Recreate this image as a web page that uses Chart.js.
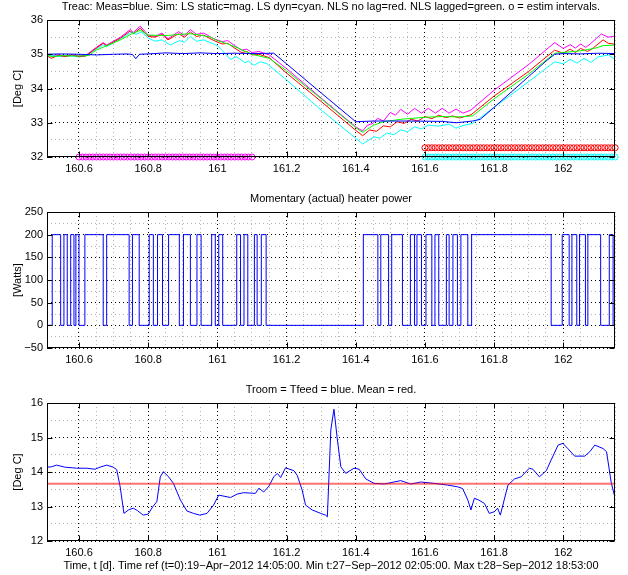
<!DOCTYPE html>
<html>
<head>
<meta charset="utf-8">
<script src="https://cdn.jsdelivr.net/npm/chart.js@4.4.1/dist/chart.umd.min.js"></script>
<style>
  html, body { margin: 0; padding: 0; background: #fff; }
  #wrap { position: relative; width: 628px; height: 575px; }
  canvas { position: absolute; left: 0; }
</style>
</head>
<body>
<div id="wrap">
  <canvas id="treacChart" width="628" height="180" style="top:0px"></canvas>
  <canvas id="powerChart" width="628" height="190" style="top:180px"></canvas>
  <canvas id="troomChart" width="628" height="205" style="top:370px"></canvas>
</div>
<script>
// time axis (days since t=0)
const tMin = 160.5075;
const tMax = 162.1495;

// Treac, measured (blue)
const measT = [160.50, 160.55, 160.60, 160.65, 160.70, 160.74, 160.755, 160.764, 160.775, 160.80, 160.85, 160.90, 160.95, 161.00, 161.05, 161.10, 161.163, 161.20, 161.30, 161.40, 161.45, 161.55, 161.65, 161.69, 161.738, 161.76, 161.80, 161.85, 161.90, 161.95, 161.975, 162.00, 162.05, 162.10, 162.15];
const measY = [35.00, 35.01, 35.00, 34.98, 35.00, 35.01, 34.99, 34.87, 35.00, 35.01, 35.04, 35.02, 35.04, 35.02, 35.03, 35.02, 35.03, 34.72, 33.87, 33.03, 33.05, 33.05, 33.04, 33.00, 33.05, 33.10, 33.45, 33.90, 34.35, 34.80, 35.00, 35.02, 35.01, 35.03, 35.02];

// LS static (magenta)
const lsStatT = [160.50, 160.52, 160.54, 160.56, 160.58, 160.60, 160.62, 160.65, 160.67, 160.68, 160.72, 160.748, 160.757, 160.777, 160.80, 160.82, 160.84, 160.857, 160.888, 160.905, 160.922, 160.94, 160.96, 160.99, 161.014, 161.03, 161.05, 161.07, 161.085, 161.10, 161.12, 161.15, 161.20, 161.30, 161.40, 161.42, 161.434, 161.45, 161.463, 161.48, 161.50, 161.515, 161.53, 161.55, 161.57, 161.59, 161.61, 161.63, 161.65, 161.67, 161.69, 161.71, 161.733, 161.80, 161.90, 161.975, 162.00, 162.02, 162.035, 162.05, 162.065, 162.08, 162.11, 162.13, 162.15];
const lsStatY = [35.00, 34.95, 34.99, 34.95, 34.99, 34.95, 34.97, 35.20, 35.34, 35.27, 35.50, 35.72, 35.64, 35.82, 35.56, 35.52, 35.62, 35.45, 35.66, 35.55, 35.72, 35.58, 35.62, 35.45, 35.37, 35.40, 35.25, 35.12, 35.15, 35.05, 35.08, 34.98, 34.58, 33.72, 32.88, 32.76, 32.93, 32.98, 33.13, 33.05, 33.30, 33.22, 33.39, 33.25, 33.42, 33.28, 33.42, 33.28, 33.42, 33.28, 33.40, 33.28, 33.37, 33.95, 34.70, 35.34, 35.17, 35.28, 35.18, 35.30, 35.20, 35.32, 35.59, 35.50, 35.53];

// LS dyn (cyan)
const lsDynT = [160.50, 160.52, 160.55, 160.58, 160.60, 160.62, 160.65, 160.67, 160.68, 160.72, 160.753, 160.765, 160.78, 160.80, 160.82, 160.84, 160.864, 160.89, 160.905, 160.922, 160.94, 160.96, 160.99, 161.00, 161.02, 161.038, 161.055, 161.08, 161.09, 161.105, 161.125, 161.144, 161.20, 161.30, 161.40, 161.42, 161.453, 161.47, 161.49, 161.51, 161.53, 161.55, 161.57, 161.59, 161.61, 161.64, 161.67, 161.69, 161.71, 161.738, 161.80, 161.90, 161.975, 162.00, 162.02, 162.04, 162.06, 162.08, 162.10, 162.13, 162.15];
const lsDynY = [35.00, 34.96, 34.93, 34.95, 34.92, 34.95, 35.15, 35.28, 35.22, 35.45, 35.66, 35.58, 35.65, 35.48, 35.38, 35.42, 35.27, 35.40, 35.35, 35.52, 35.38, 35.42, 35.30, 35.25, 35.05, 34.85, 34.93, 34.75, 34.80, 34.68, 34.78, 34.72, 34.25, 33.37, 32.55, 32.38, 32.59, 32.55, 32.70, 32.65, 32.79, 32.74, 32.88, 32.82, 32.93, 32.90, 32.96, 32.84, 32.92, 32.98, 33.45, 34.20, 34.78, 34.72, 34.85, 34.74, 34.88, 34.76, 34.92, 34.98, 34.85];

// NLS no lag (red)
const nlsT = [160.50, 160.52, 160.54, 160.56, 160.58, 160.60, 160.62, 160.65, 160.67, 160.68, 160.72, 160.748, 160.757, 160.777, 160.80, 160.82, 160.84, 160.857, 160.888, 160.905, 160.922, 160.94, 160.96, 160.99, 161.014, 161.03, 161.05, 161.07, 161.085, 161.10, 161.12, 161.15, 161.20, 161.30, 161.40, 161.42, 161.44, 161.46, 161.48, 161.50, 161.52, 161.54, 161.56, 161.58, 161.60, 161.62, 161.64, 161.66, 161.68, 161.70, 161.733, 161.80, 161.90, 161.975, 162.00, 162.02, 162.035, 162.05, 162.07, 162.085, 162.115, 162.13, 162.15];
const nlsY = [35.00, 34.88, 34.97, 34.93, 34.98, 34.93, 34.95, 35.18, 35.32, 35.25, 35.47, 35.68, 35.60, 35.76, 35.52, 35.50, 35.58, 35.42, 35.60, 35.50, 35.65, 35.52, 35.56, 35.40, 35.30, 35.32, 35.18, 35.05, 35.08, 34.98, 35.00, 34.90, 34.45, 33.62, 32.78, 32.62, 32.79, 32.75, 32.91, 32.88, 33.03, 32.98, 33.10, 33.05, 33.18, 33.12, 33.22, 33.15, 33.20, 33.14, 33.23, 33.78, 34.50, 35.12, 35.03, 35.15, 35.05, 35.17, 35.08, 35.17, 35.42, 35.32, 35.29];

// NLS lagged (green)
const nlsLagT = [160.50, 160.52, 160.55, 160.58, 160.61, 160.63, 160.65, 160.68, 160.72, 160.75, 160.777, 160.80, 160.83, 160.86, 160.89, 160.92, 160.95, 160.98, 161.00, 161.03, 161.06, 161.10, 161.15, 161.20, 161.30, 161.40, 161.42, 161.45, 161.48, 161.53, 161.60, 161.65, 161.70, 161.738, 161.80, 161.90, 161.975, 162.00, 162.05, 162.09, 162.115, 162.15];
const nlsLagY = [35.00, 34.93, 34.96, 34.95, 34.95, 34.97, 35.12, 35.25, 35.42, 35.58, 35.70, 35.56, 35.55, 35.55, 35.58, 35.60, 35.56, 35.50, 35.40, 35.30, 35.18, 35.00, 34.88, 34.52, 33.70, 32.86, 32.72, 32.92, 33.03, 33.10, 33.16, 33.18, 33.17, 33.20, 33.70, 34.42, 35.03, 35.05, 35.10, 35.17, 35.25, 35.27];

// estimation intervals (circles)
const estimStatT = [160.60, 160.61, 160.62, 160.63, 160.64, 160.65, 160.66, 160.67, 160.68, 160.69, 160.70, 160.71, 160.72, 160.73, 160.74, 160.75, 160.76, 160.77, 160.78, 160.79, 160.80, 160.81, 160.82, 160.83, 160.84, 160.85, 160.86, 160.87, 160.88, 160.89, 160.90, 160.91, 160.92, 160.93, 160.94, 160.95, 160.96, 160.97, 160.98, 160.99, 161.00, 161.01, 161.02, 161.03, 161.04, 161.05, 161.06, 161.07, 161.08, 161.09, 161.10];
const estimNlsT = [161.60, 161.61, 161.62, 161.63, 161.64, 161.65, 161.66, 161.67, 161.68, 161.69, 161.70, 161.71, 161.72, 161.73, 161.74, 161.75, 161.76, 161.77, 161.78, 161.79, 161.80, 161.81, 161.82, 161.83, 161.84, 161.85, 161.86, 161.87, 161.88, 161.89, 161.90, 161.91, 161.92, 161.93, 161.94, 161.95, 161.96, 161.97, 161.98, 161.99, 162.00, 162.01, 162.02, 162.03, 162.04, 162.05, 162.06, 162.07, 162.08, 162.09, 162.10, 162.11, 162.12, 162.13, 162.14, 162.15];
const estimStatLevel = 32.0;
const estimNlsRedLevel = 32.27;
const estimNlsCyanLevel = 32.0;

// heater power: switch-on / switch-off instants, 200 W when on
const powerOnT  = [160.5226, 160.5565, 160.576, 160.591, 160.617, 160.680, 160.7545, 160.803, 160.827, 160.859, 160.902, 160.941, 160.9835, 161.004, 161.056, 161.077, 161.107, 161.127, 161.422, 161.4725, 161.504, 161.558, 161.577, 161.603, 161.629, 161.662, 161.681, 161.704, 161.735, 161.997, 162.025, 162.047, 162.071, 162.133, 162.148];
const powerOffT = [160.547, 160.566, 160.5855, 160.600, 160.670, 160.745, 160.774, 160.815, 160.8415, 160.890, 160.922, 160.953, 160.994, 161.0154, 161.067, 161.088, 161.115, 161.141, 161.464, 161.495, 161.535, 161.570, 161.590, 161.620, 161.640, 161.670, 161.694, 161.724, 161.965, 162.017, 162.039, 162.064, 162.108, 162.144, null];
const powerOn = 200;

// Troom (blue) and its mean (red)
const troomT = [160.507, 160.52, 160.535, 160.559, 160.593, 160.622, 160.646, 160.661, 160.680, 160.699, 160.709, 160.719, 160.730, 160.743, 160.757, 160.769, 160.786, 160.800, 160.813, 160.825, 160.835, 160.844, 160.859, 160.873, 160.893, 160.912, 160.931, 160.949, 160.970, 160.989, 161.004, 161.038, 161.057, 161.076, 161.110, 161.120, 161.134, 161.149, 161.163, 161.173, 161.183, 161.197, 161.221, 161.231, 161.245, 161.255, 161.274, 161.299, 161.313, 161.318, 161.328, 161.337, 161.347, 161.357, 161.371, 161.395, 161.410, 161.429, 161.453, 161.482, 161.530, 161.559, 161.588, 161.627, 161.666, 161.695, 161.709, 161.724, 161.733, 161.743, 161.755, 161.772, 161.786, 161.801, 161.810, 161.818, 161.840, 161.859, 161.878, 161.902, 161.912, 161.931, 161.951, 161.965, 161.985, 161.999, 162.013, 162.033, 162.062, 162.077, 162.091, 162.115, 162.125, 162.139, 162.150];
const troomY = [14.14, 14.15, 14.20, 14.14, 14.11, 14.11, 14.08, 14.14, 14.20, 14.14, 14.07, 13.57, 12.80, 12.90, 12.95, 12.88, 12.75, 12.78, 12.99, 13.14, 13.86, 14.01, 13.86, 13.67, 13.19, 12.87, 12.80, 12.75, 12.80, 13.04, 13.33, 13.26, 13.36, 13.40, 13.38, 13.53, 13.42, 13.59, 13.86, 13.96, 13.84, 14.12, 14.04, 13.90, 13.48, 13.04, 12.90, 12.80, 12.75, 12.70, 15.22, 15.82, 14.93, 14.15, 13.96, 14.11, 14.08, 13.80, 13.67, 13.65, 13.75, 13.65, 13.71, 13.67, 13.62, 13.57, 13.52, 13.19, 12.90, 13.24, 13.19, 13.09, 12.80, 12.85, 12.95, 12.75, 13.62, 13.80, 13.86, 14.11, 14.08, 13.86, 14.04, 14.35, 14.78, 14.83, 14.68, 14.46, 14.46, 14.59, 14.78, 14.68, 14.59, 13.67, 13.24];
const troomMean = 13.66;

// tick steps: labelled (major) and grid-only (minor)
const xMajor = 0.2, xMinor = 0.05;
const treacMajor = 1, treacMinor = 0.5;
const powerMajor = 50, powerMinor = 25;
const troomMajor = 1, troomMinor = 0.5;

const titles = [
    'Treac: Meas=blue. Sim: LS static=mag. LS dyn=cyan. NLS no lag=red. NLS lagged=green. o = estim intervals.',
    'Momentary (actual) heater power',
    'Troom = Tfeed = blue. Mean = red.'
];
const timeLabel = 'Time, t [d]. Time ref (t=0):19\u2212Apr\u22122012 14:05:00. Min t:27\u2212Sep\u22122012 02:05:00. Max t:28\u2212Sep\u22122012 18:53:00';

Chart.defaults.font.family = "'Liberation Sans', Arial, Helvetica, sans-serif";
Chart.defaults.font.size = 11;
Chart.defaults.color = '#000';

function isMajor(v, step) {
    const r = v / step;
    return Math.abs(r - Math.round(r)) < 1e-6;
}

function pts(xs, ys) {
    return xs.map((x, i) => ({ x: x, y: ys[i] }));
}

function fmt(v) {
    const s = String(Math.round(v * 10) / 10);
    return s.replace('-', '\u2212');
}

// MATLAB-like box with inward ticks
const boxPlugin = {
    id: 'box',
    afterDraw(chart, args, opts) {
        const { ctx, chartArea: a, scales } = chart;
        const L = Math.round(a.left) + 0.5, R = Math.round(a.right) - 0.5;
        const T = Math.round(a.top) + 0.5, B = Math.round(a.bottom) - 0.5;
        ctx.save();
        ctx.strokeStyle = '#000';
        ctx.lineWidth = 1;
        ctx.setLineDash([]);
        ctx.strokeRect(L, T, R - L, B - T);
        ctx.beginPath();
        scales.x.ticks.forEach(t => {
            if (!isMajor(t.value, opts.xStep)) return;
            const px = Math.round(scales.x.getPixelForValue(t.value)) + 0.5;
            ctx.moveTo(px, B); ctx.lineTo(px, B - 5);
            ctx.moveTo(px, T); ctx.lineTo(px, T + 5);
        });
        scales.y.ticks.forEach(t => {
            if (!isMajor(t.value, opts.yStep)) return;
            const py = Math.round(scales.y.getPixelForValue(t.value)) + 0.5;
            ctx.moveTo(L, py); ctx.lineTo(L + 5, py);
            ctx.moveTo(R, py); ctx.lineTo(R - 5, py);
        });
        ctx.stroke();
        ctx.restore();
    }
};

function makeOptions(cfg) {
    const gridColor = step => (c => (c.tick && isMajor(c.tick.value, step)) ? '#000' : '#b4b4b4');
    return {
        responsive: false,
        animation: false,
        events: [],
        layout: { padding: { left: 0, right: 13, top: 0, bottom: 0 } },
        plugins: {
            legend: { display: false },
            tooltip: { enabled: false },
            title: {
                display: true,
                text: cfg.title,
                fullSize: false,
                font: { size: 11, weight: 'normal' },
                color: '#000',
                padding: cfg.titlePad
            },
            box: { xStep: xMajor, yStep: cfg.yMajor }
        },
        scales: {
            x: {
                type: 'linear',
                min: tMin,
                max: tMax,
                afterFit: s => { s.height = cfg.xHeight; },
                grid: { color: gridColor(xMajor), lineWidth: 1, drawTicks: false },
                border: { display: false, dash: [1, 3] },
                ticks: {
                    stepSize: xMinor,
                    autoSkip: false,
                    maxRotation: 0,
                    padding: 5,
                    font: { size: 11 },
                    callback: v => isMajor(v, xMajor) ? fmt(v) : ''
                },
                title: cfg.xTitle ? {
                    display: true,
                    text: cfg.xTitle,
                    font: { size: 11 },
                    padding: { top: 0, bottom: 2 }
                } : { display: false }
            },
            y: {
                min: cfg.yMin,
                max: cfg.yMax,
                afterFit: s => { s.width = 47; },
                grid: { color: gridColor(cfg.yMajor), lineWidth: 1, drawTicks: false },
                border: { display: false, dash: [1, 3] },
                ticks: {
                    stepSize: cfg.yMinor,
                    autoSkip: false,
                    padding: 4,
                    font: { size: 11 },
                    callback: v => isMajor(v, cfg.yMajor) ? fmt(v) : ''
                },
                title: {
                    display: true,
                    text: cfg.yTitle,
                    font: { size: 11 },
                    padding: { top: 11, bottom: 0 }
                }
            }
        }
    };
}

function lineSet(xs, ys, color, extra) {
    return Object.assign({
        data: pts(xs, ys),
        borderColor: color,
        borderWidth: 1,
        pointRadius: 0,
        tension: 0,
        fill: false
    }, extra || {});
}

function markerSet(xs, level, color) {
    return {
        data: xs.map(x => ({ x: x, y: level })),
        showLine: false,
        pointRadius: 3,
        pointStyle: 'circle',
        pointBorderColor: color,
        pointBackgroundColor: 'rgba(0,0,0,0)',
        pointBorderWidth: 1,
        clip: false
    };
}

// Treac chart
new Chart(document.getElementById('treacChart'), {
    type: 'line',
    data: {
        datasets: [
            lineSet(measT, measY, '#0000ff'),
            lineSet(nlsLagT, nlsLagY, '#00ff00'),
            lineSet(nlsT, nlsY, '#ff0000'),
            lineSet(lsDynT, lsDynY, '#00ffff'),
            lineSet(lsStatT, lsStatY, '#ff00ff'),
            markerSet(estimStatT, estimStatLevel, '#ff00ff'),
            markerSet(estimNlsT, estimNlsRedLevel, '#ff0000'),
            markerSet(estimNlsT, estimNlsCyanLevel, '#00ffff')
        ]
    },
    options: makeOptions({
        title: titles[0], titlePad: { top: 0, bottom: 6.8 },
        xHeight: 23, yMin: 32, yMax: 36, yMajor: treacMajor, yMinor: treacMinor,
        yTitle: '[Deg C]'
    }),
    plugins: [boxPlugin]
});

// Heater power chart (stepped)
const powerT = [tMin];
const powerW = [0];
powerOnT.forEach((t, i) => {
    powerT.push(t); powerW.push(powerOn);
    if (powerOffT[i] !== null) { powerT.push(powerOffT[i]); powerW.push(0); }
});
powerT.push(tMax); powerW.push(powerW[powerW.length - 1]);

new Chart(document.getElementById('powerChart'), {
    type: 'line',
    data: {
        datasets: [lineSet(powerT, powerW, '#0000ff', { stepped: 'before' })]
    },
    options: makeOptions({
        title: titles[1], titlePad: { top: 12.4, bottom: 6.4 },
        xHeight: 22, yMin: -50, yMax: 250, yMajor: powerMajor, yMinor: powerMinor,
        yTitle: '[Watts]'
    }),
    plugins: [boxPlugin]
});

// Troom chart
new Chart(document.getElementById('troomChart'), {
    type: 'line',
    data: {
        datasets: [
            lineSet([tMin, tMax], [troomMean, troomMean], 'rgba(255,0,0,0.55)', { borderWidth: 2 }),
            lineSet(troomT, troomY, '#0000ff')
        ]
    },
    options: makeOptions({
        title: titles[2], titlePad: { top: 13.4, bottom: 6.4 },
        xHeight: 34, yMin: 12, yMax: 16, yMajor: troomMajor, yMinor: troomMinor,
        yTitle: '[Deg C]', xTitle: timeLabel
    }),
    plugins: [boxPlugin]
});
</script>
</body>
</html>
